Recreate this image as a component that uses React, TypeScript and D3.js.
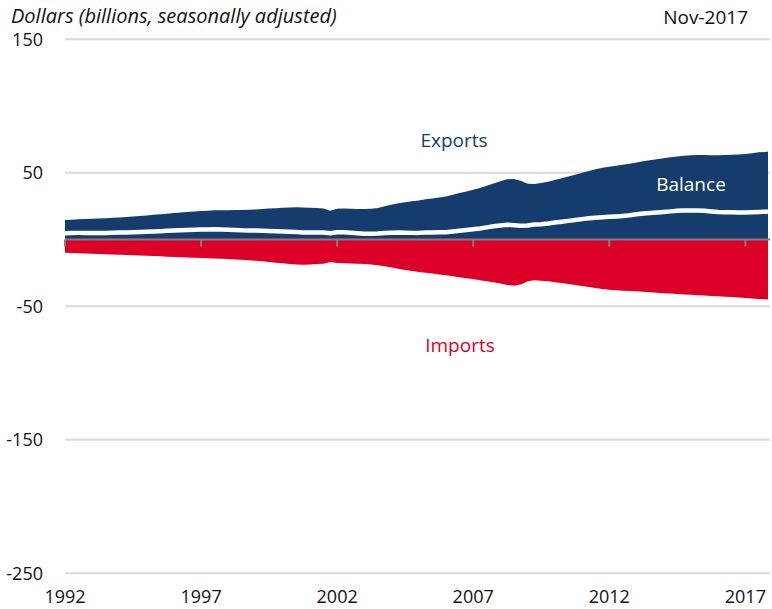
import React from "react";
import * as d3 from "d3";

// Quarterly values (Jan, Apr, Jul, Oct) from 1992 to 2017, final point Nov-2017
const exportsVals = [
  14.6, 14.9, 15.2, 15.4,
  15.6, 15.8, 16.0, 16.3,
  16.6, 16.9, 17.3, 17.7,
  18.1, 18.5, 18.9, 19.4,
  19.8, 20.2, 20.6, 21.0,
  21.3, 21.6, 21.9, 22.0,
  22.0, 22.1, 22.1, 22.3,
  22.6, 22.9, 23.2, 23.5,
  23.8, 24.1, 24.2, 24.1,
  23.9, 23.6, 23.3, 21.6,
  23.0, 23.2, 23.1, 22.9,
  22.8, 23.0, 23.7, 24.9,
  26.1, 27.1, 27.9, 28.6,
  29.3, 30.1, 30.8, 31.5,
  32.3, 33.5, 34.8, 36.0,
  37.3, 38.7, 40.3, 41.9,
  43.6, 45.1, 45.4, 44.0,
  41.8, 41.6, 42.3, 43.3,
  44.6, 46.0, 47.3, 48.6,
  50.0, 51.4, 52.6, 53.7,
  54.6, 55.3, 56.0, 56.8,
  57.8, 58.6, 59.4, 60.2,
  60.9, 61.6, 62.3, 62.8,
  63.2, 63.4, 63.4, 63.2,
  63.1, 63.3, 63.5, 63.7,
  64.1, 64.7, 65.3, 65.6,
  65.9,
];

const importsVals = [
  9.8, 10.0, 10.2, 10.4,
  10.6, 10.8, 11.0, 11.2,
  11.4, 11.6, 11.8, 12.0,
  12.2, 12.4, 12.6, 12.8,
  13.0, 13.2, 13.4, 13.6,
  13.8, 14.0, 14.2, 14.4,
  14.6, 14.9, 15.2, 15.5,
  15.9, 16.3, 16.8, 17.3,
  17.8, 18.3, 18.6, 18.8,
  18.6, 18.4, 18.1, 16.9,
  17.5, 17.8, 18.0, 18.2,
  18.4, 18.7, 19.2, 20.0,
  21.0, 21.9, 22.8, 23.6,
  24.3, 24.9, 25.5, 26.1,
  26.8, 27.5, 28.2, 28.9,
  29.6, 30.4, 31.2, 32.0,
  33.0, 34.0, 34.6, 33.6,
  31.2, 30.4, 30.8, 31.3,
  31.9, 32.6, 33.3, 34.0,
  34.7, 35.5, 36.3, 37.0,
  37.6, 38.0, 38.3, 38.6,
  38.8, 39.1, 39.5, 39.9,
  40.2, 40.5, 40.8, 41.1,
  41.4, 41.7, 41.9, 42.2,
  42.5, 42.8, 43.1, 43.4,
  43.8, 44.2, 44.6, 44.8,
  44.9,
];

const yTicks = [150, 50, -50, -150, -250];
const xTickYears = [1992, 1997, 2002, 2007, 2012, 2017];
const title = "Dollars (billions, seasonally adjusted)";
const period = "Nov-2017";

const BLUE = "#143c6c";
const RED = "#dc0029";
const FONT = "'Open Sans', 'Noto Sans', sans-serif";

type Row = { date: Date; exp: number; imp: number; bal: number };

const rows: Row[] = exportsVals.map((e, i) => ({
  date: i < exportsVals.length - 1 ? new Date(1992, 3 * i, 1) : new Date(2017, 10, 1),
  exp: e,
  imp: importsVals[i],
  bal: e - importsVals[i],
}));

export default function App() {
  const W = 772;
  const H = 609;
  const left = 65;
  const right = 770;

  const x = d3
    .scaleTime()
    .domain([new Date(1992, 0, 1), new Date(2017, 10, 1)])
    .range([left, 768]);
  const y = d3.scaleLinear().domain([-250, 150]).range([573.3, 39.3]);

  const expArea = d3
    .area<Row>()
    .x((d) => x(d.date))
    .y0(y(0))
    .y1((d) => y(d.exp));
  const impArea = d3
    .area<Row>()
    .x((d) => x(d.date))
    .y0(y(0))
    .y1((d) => y(-d.imp));
  const balLine = d3
    .line<Row>()
    .x((d) => x(d.date))
    .y((d) => y(d.bal));

  return (
    <svg
      width={W}
      height={H}
      style={{ position: "absolute", left: 0, top: 0, display: "block", background: "#fff" }}
      fontFamily={FONT}
    >
      {yTicks.map((t) => (
        <g key={t}>
          <line x1={left} x2={right} y1={y(t)} y2={y(t)} stroke="#d9d9d9" strokeWidth={2} />
          <text x={43} y={y(t)} dy="0.36em" textAnchor="end" fontSize={18} fill="#111">
            {t}
          </text>
        </g>
      ))}
      <path d={expArea(rows) || ""} fill={BLUE} />
      <path d={impArea(rows) || ""} fill={RED} />
      <path d={balLine(rows) || ""} fill="none" stroke="#fff" strokeWidth={4.5} strokeLinejoin="round" />
      <line x1={left} x2={right} y1={y(0)} y2={y(0)} stroke="#808080" strokeWidth={2} />
      {xTickYears.map((yr) => {
        const xx = x(new Date(yr, 0, 1));
        return (
          <g key={yr}>
            <line x1={xx} x2={xx} y1={y(0)} y2={y(0) + 7} stroke="#808080" strokeWidth={2} />
            <text x={xx} y={603} textAnchor="middle" fontSize={18} fill="#111">
              {yr}
            </text>
          </g>
        );
      })}
      <text x={11} y={23} fontSize={20} fontStyle="italic" fill="#111">
        {title}
      </text>
      <text x={748} y={24} textAnchor="end" fontSize={19} fill="#111">
        {period}
      </text>
      <text x={454} y={147} textAnchor="middle" fontSize={19} fill={BLUE}>
        Exports
      </text>
      <text x={691} y={191} textAnchor="middle" fontSize={19} fill="#fff">
        Balance
      </text>
      <text x={460} y={352} textAnchor="middle" fontSize={19} fill={RED}>
        Imports
      </text>
    </svg>
  );
}
